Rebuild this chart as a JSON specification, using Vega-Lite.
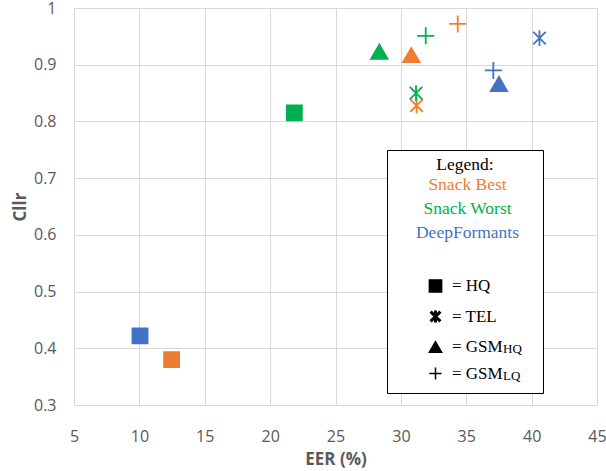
{
  "$schema": "https://vega.github.io/schema/vega-lite/v6.json",
  "width": 523,
  "height": 397,
  "autosize": "none",
  "padding": {"left": 74, "top": 8, "right": 9, "bottom": 66},
  "background": "white",
  "config": {
    "view": {"stroke": null},
    "axis": {
      "labelFont": "Open Sans",
      "labelFontSize": 16,
      "labelColor": "#595959",
      "labelFlush": false,
      "titleFont": "Open Sans",
      "titleFontSize": 17,
      "titleFontWeight": "bold",
      "titleColor": "#595959",
      "gridColor": "#D9D9D9",
      "gridWidth": 1,
      "domain": false,
      "ticks": false
    }
  },
  "data": {
    "values": [
      {"method": "Snack Best", "condition": "HQ", "eer": 12.47, "cllr": 0.380},
      {"method": "Snack Best", "condition": "TEL", "eer": 31.2, "cllr": 0.828},
      {"method": "Snack Best", "condition": "GSM_HQ", "eer": 30.8, "cllr": 0.917},
      {"method": "Snack Best", "condition": "GSM_LQ", "eer": 34.35, "cllr": 0.972},
      {"method": "Snack Worst", "condition": "HQ", "eer": 21.85, "cllr": 0.815},
      {"method": "Snack Worst", "condition": "TEL", "eer": 31.16, "cllr": 0.850},
      {"method": "Snack Worst", "condition": "GSM_HQ", "eer": 28.35, "cllr": 0.923},
      {"method": "Snack Worst", "condition": "GSM_LQ", "eer": 31.9, "cllr": 0.951},
      {"method": "DeepFormants", "condition": "HQ", "eer": 10.05, "cllr": 0.422},
      {"method": "DeepFormants", "condition": "TEL", "eer": 40.6, "cllr": 0.947},
      {"method": "DeepFormants", "condition": "GSM_HQ", "eer": 37.5, "cllr": 0.866},
      {"method": "DeepFormants", "condition": "GSM_LQ", "eer": 37.07, "cllr": 0.890}
    ]
  },
  "encoding": {
    "x": {
      "field": "eer", "type": "quantitative",
      "scale": {"domain": [5, 45], "nice": false, "zero": false},
      "axis": {"title": "EER (%)", "values": [5, 10, 15, 20, 25, 30, 35, 40, 45], "labelPadding": 23, "titlePadding": 7}
    },
    "y": {
      "field": "cllr", "type": "quantitative",
      "scale": {"domain": [0.3, 1], "nice": false, "zero": false},
      "axis": {"title": "Cllr", "values": [0.3, 0.4, 0.5, 0.6, 0.7, 0.8, 0.9, 1], "format": ".1~f", "labelPadding": 18, "titlePadding": 4}
    }
  },
  "layer": [
    {
      "mark": {"type": "point", "filled": true, "opacity": 1, "strokeWidth": 1.8},
      "encoding": {
        "color": {
          "field": "method", "type": "nominal",
          "scale": {"domain": ["Snack Best", "Snack Worst", "DeepFormants"], "range": ["#ED7D31", "#00B050", "#4472C4"]},
          "legend": {
            "orient": "none", "legendX": 376, "legendY": 168.5, "title": null, "padding": 0,
            "symbolOpacity": 0, "symbolSize": 1, "symbolOffset": 0, "symbolStrokeWidth": 0, "labelOffset": 0,
            "labelAlign": "center", "labelFont": "Liberation Serif", "labelFontSize": 17.5, "rowPadding": 5,
            "labelLimit": 300, "zindex": 2,
            "encode": {"labels": {"update": {"fill": {"scale": "color", "field": "value"}}}}
          }
        },
        "stroke": {
          "field": "method", "type": "nominal",
          "scale": {"domain": ["Snack Best", "Snack Worst", "DeepFormants"], "range": ["#ED7D31", "#00B050", "#4472C4"]},
          "legend": null
        },
        "shape": {
          "field": "condition", "type": "nominal",
          "scale": {
            "domain": ["HQ", "TEL", "GSM_HQ", "GSM_LQ"],
            "range": ["square", "M-0.8,-0.8L0.8,0.8M-0.8,0.8L0.8,-0.8M0,-1L0,1", "triangle-up", "M-1,0L1,0M0,-1L0,1"]
          },
          "legend": {
            "orient": "none", "legendX": 313, "legendY": 142, "zindex": 1,
            "title": ["Legend:", " ", " ", " ", " "],
            "titleFont": "Liberation Serif", "titleFontSize": 17.5, "titleFontWeight": "normal", "titleColor": "black",
            "titleAnchor": "middle", "titleLineHeight": 22.5, "titlePadding": 10, "titleLimit": 300,
            "padding": 10, "strokeColor": "black", "fillColor": "white",
            "symbolOffset": 30, "symbolSize": 150, "symbolFillColor": "black", "symbolStrokeColor": "black", "symbolStrokeWidth": 1.5, "symbolOpacity": 1,
            "labelOffset": 8, "labelFont": "Liberation Serif", "labelFontSize": 17, "labelColor": "black", "rowPadding": 8.5, "labelLimit": 300,
            "labelExpr": "datum.label == 'GSM_HQ' || datum.label == 'GSM_LQ' ? '= GSM\u00a0\u00a0\u00a0\u00a0\u00a0\u00a0\u00a0\u200b' : '= ' + datum.label",
            "encode": {
              "title": {"update": {"dy": {"value": -4}}},
              "symbols": {"update": {"strokeWidth": {"signal": "datum.value == 'TEL' ? 3 : 1.5"}, "fill": {"value": "black"}, "stroke": {"value": "black"}, "opacity": {"value": 1}}}
            }
          }
        },
        "size": {
          "field": "condition", "type": "nominal",
          "scale": {"domain": ["HQ", "TEL", "GSM_HQ", "GSM_LQ"], "range": [225, 289, 260, 289]},
          "legend": null
        }
      }
    },
    {
      "mark": {"type": "point", "filled": true, "opacity": 0},
      "encoding": {
        "shape": {
          "field": "condition", "type": "nominal",
          "legend": {
            "orient": "none", "legendX": 412, "legendY": 276.5, "title": null, "padding": 0, "zindex": 2,
            "symbolOpacity": 0, "symbolSize": 289, "symbolStrokeWidth": 0, "symbolOffset": 0, "labelOffset": 0,
            "labelFont": "Liberation Serif", "labelFontSize": 13, "labelColor": "black", "rowPadding": 11,
            "labelExpr": "datum.label == 'GSM_HQ' ? 'HQ' : datum.label == 'GSM_LQ' ? 'LQ' : ''",
            "encode": {"labels": {"update": {"dy": {"value": 5}}}}
          }
        }
      }
    }
  ],
  "resolve": {"legend": {"shape": "independent"}}
}
